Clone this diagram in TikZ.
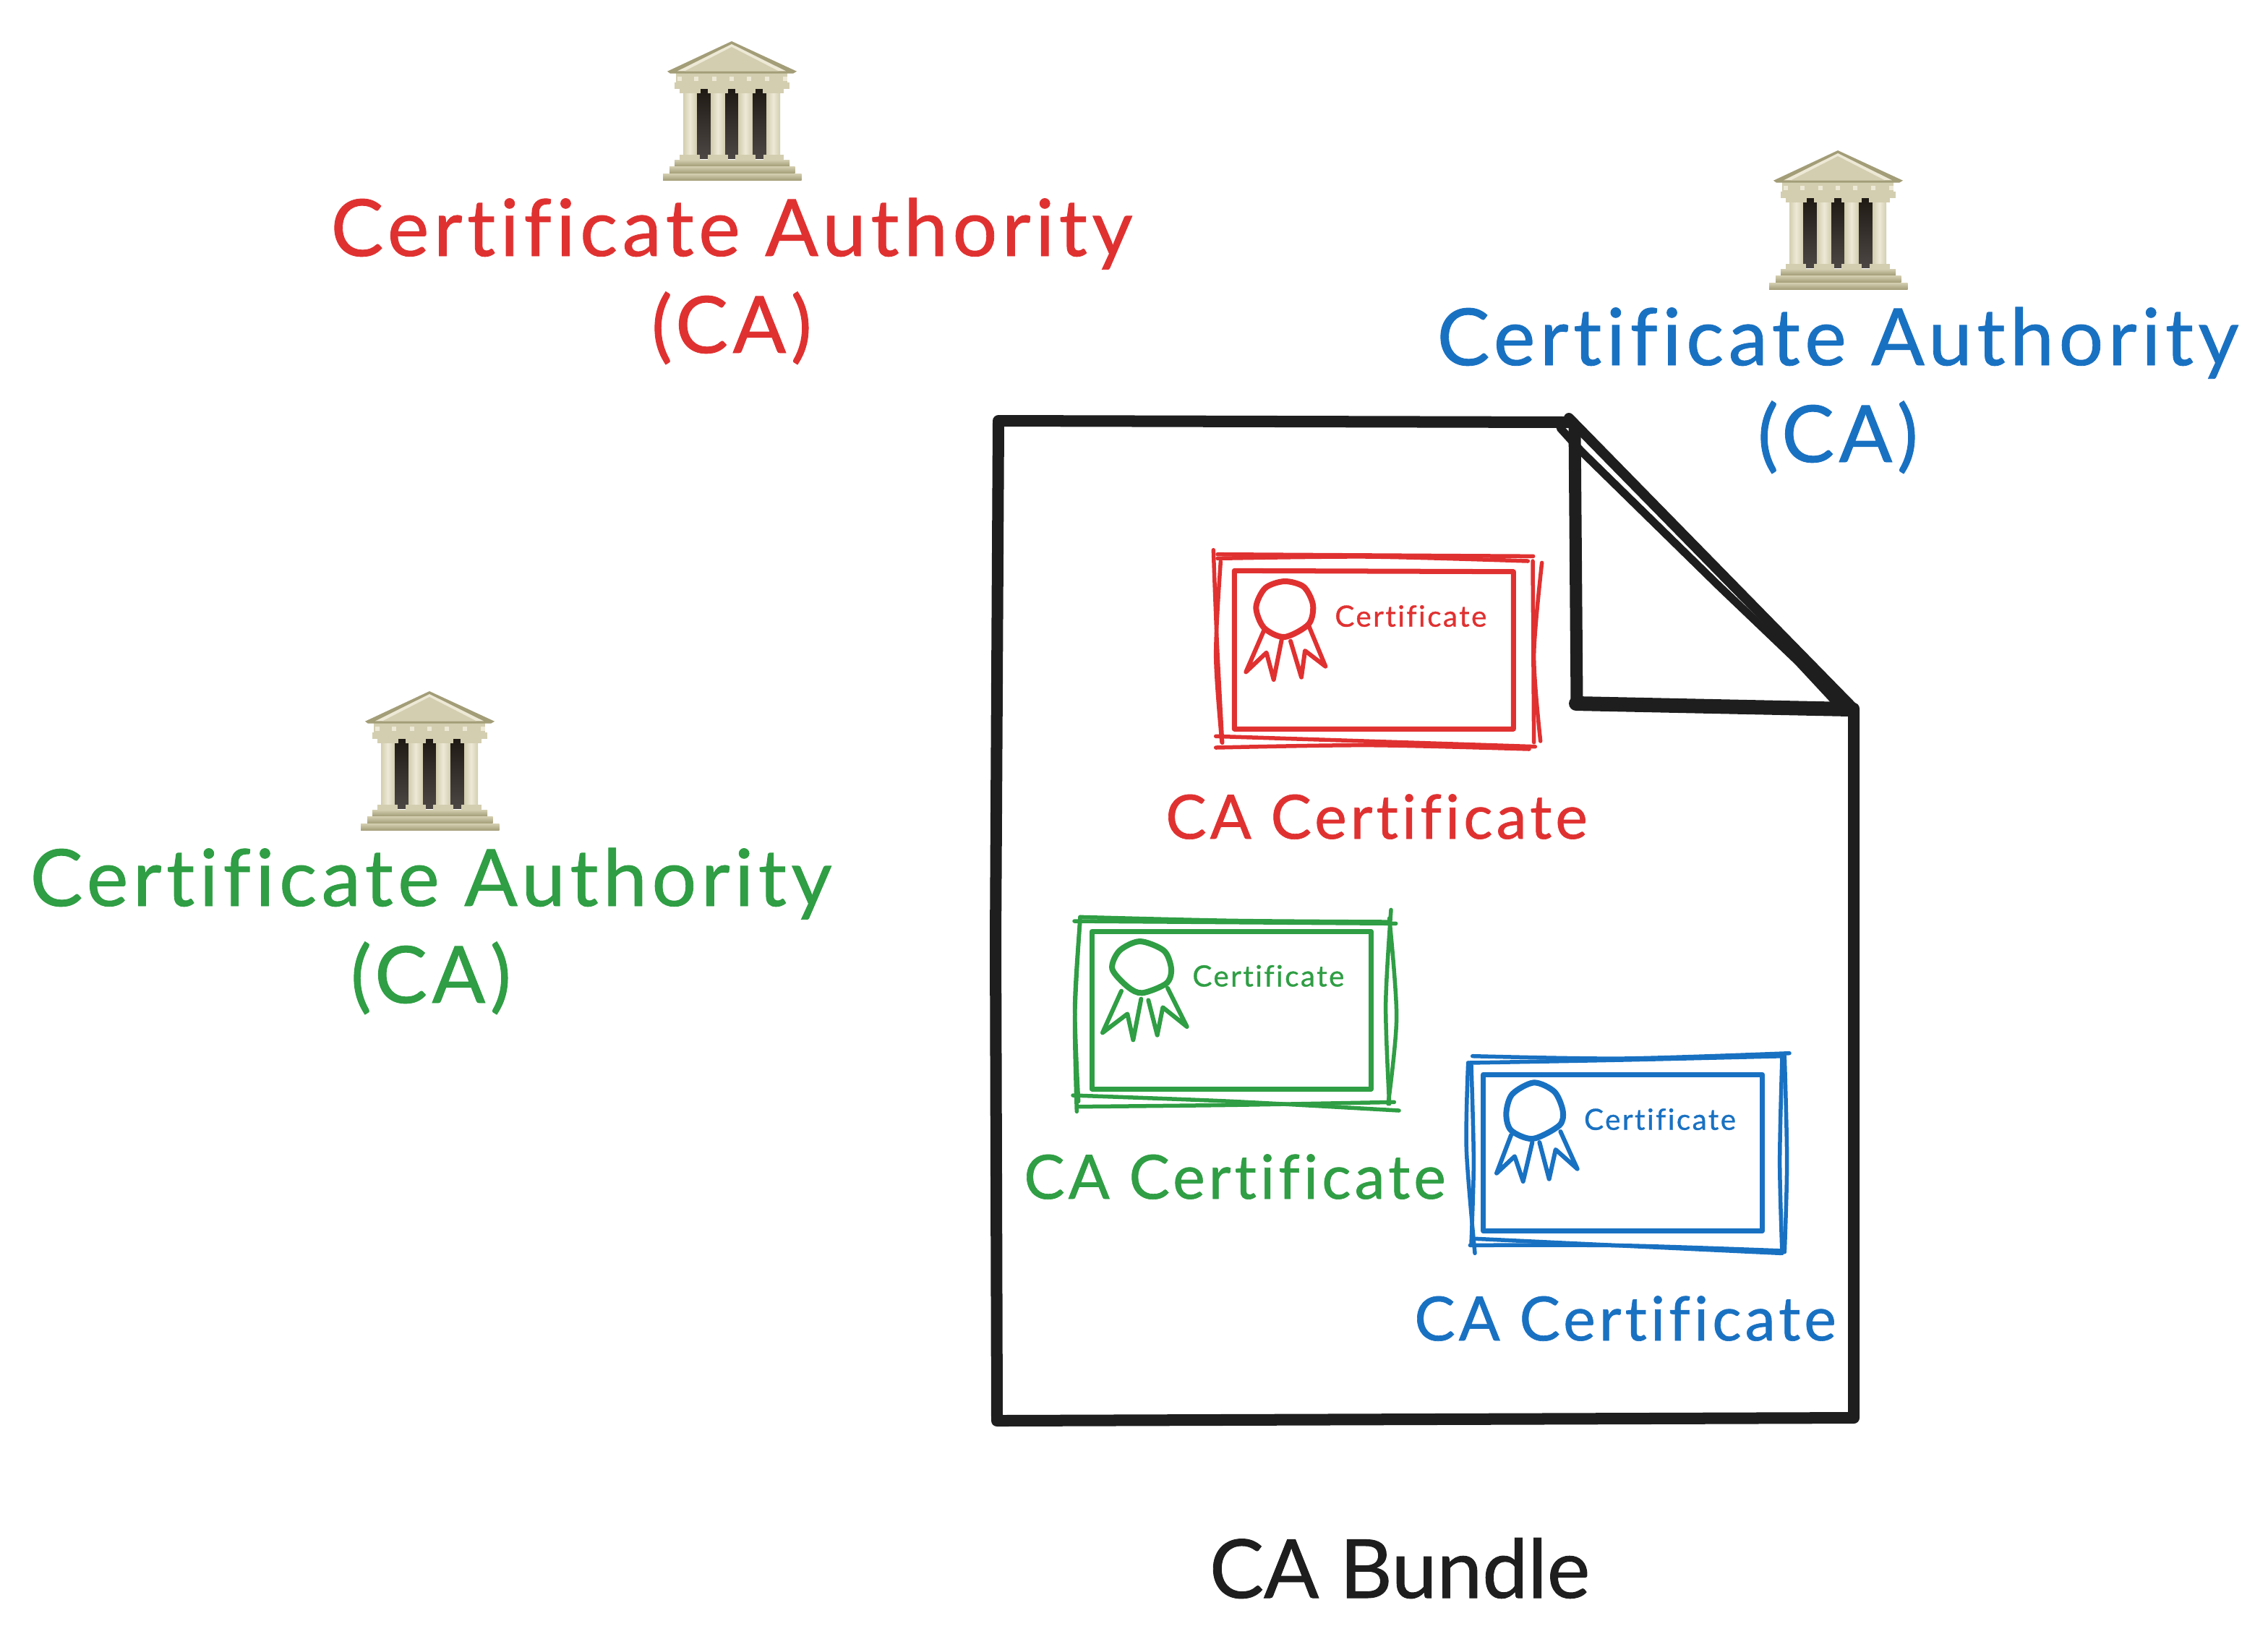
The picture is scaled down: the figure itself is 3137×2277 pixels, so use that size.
\documentclass[tikz,border=0pt]{standalone}
\usepackage{fontspec}
\setmainfont[LetterSpace=6,FakeBold=0.8,Ligatures=NoCommon]{Lato}
\definecolor{sketchred}{HTML}{E03131}
\definecolor{sketchgreen}{HTML}{2F9E44}
\definecolor{sketchblue}{HTML}{1971C2}
\definecolor{sketchblack}{HTML}{1E1E1E}
\definecolor{stonelight}{HTML}{EDE9D6}
\definecolor{stone}{HTML}{D3CEB0}
\definecolor{stonedark}{HTML}{A39D78}
\definecolor{gaptop}{HTML}{1F1A14}
\definecolor{gapbottom}{HTML}{4C4744}
\tikzset{
  sketch/.style={line width=0.055cm,line cap=round,line join=round},
  inner frame/.style={line width=0.07cm,line cap=round,line join=round},
  seal/.style={line width=0.08cm,line cap=round,line join=round},
  ribbon/.style={line width=0.06cm,line cap=round,line join=round},
  sheet/.style={sketchblack,line width=0.16cm,line cap=round,line join=round},
  calabel/.style={anchor=base,inner sep=0pt,font=\fontsize{31}{31}\selectfont},
  certname/.style={anchor=base,inner sep=0pt,font=\fontsize{24}{24}\selectfont},
  bundlename/.style={anchor=base,inner sep=0pt,text=sketchblack,font=\fontsize{32}{32}\selectfont\addfontfeature{LetterSpace=0}},
  certtext/.style={anchor=base,inner sep=0pt,font=\fontsize{11.5}{11.5}\selectfont},
  temple/.pic={
    \begin{scope}[scale=1/3,shift={(-395,-80)}]
      \foreach \gapx in {250,368,482}
        \shade[top color=gaptop,bottom color=gapbottom] (\gapx,278) rectangle ++(60,290);
      \foreach \colx in {222,338,452,568} {
        \shade[left color=stone,right color=stone,middle color=stonelight] (\colx-28,290) rectangle (\colx+28,555);
        \fill[stone] (\colx-43,278) rectangle (\colx+43,296);
        \fill[stone] (\colx-42,552) rectangle (\colx+42,572);
      }
      \fill[stone] (158,250) rectangle (635,278);
      \fill[stone] (165,212) rectangle (625,250);
      \foreach \metx in {178,248,322,396,468,542,616}
        \fill[stonelight] (\metx-9,226) rectangle (\metx+9,246);
      \fill[stonedark] (395,80) -- (665,205) -- (650,214) -- (140,214) -- (128,205) -- cycle;
      \fill[stonelight] (395,92) -- (620,204) -- (170,204) -- cycle;
      \fill[stone] (395,104) -- (590,204) -- (200,204) -- cycle;
      \shade[top color=stone,bottom color=stonedark] (158,572) rectangle (635,598);
      \shade[top color=stone,bottom color=stonedark] (137,600) rectangle (658,628);
      \shade[top color=stone,bottom color=stonedark] (110,630) rectangle (685,657);
    \end{scope}
  }
}
\begin{document}
\begin{tikzpicture}[x=0.01cm,y=-0.01cm]
    \useasboundingbox (0,0) rectangle (3137,2277);
    \pic at (1012,57) {temple};
    \node[calabel,text=sketchred] (redca) at (1012,354) {Certificate Authority};
    \node[calabel,text=sketchred] (redabbr) at (1012,488) {(CA)};
    \pic at (2542,208) {temple};
    \node[calabel,text=sketchblue] (blueca) at (2542,505) {Certificate Authority};
    \node[calabel,text=sketchblue] (blueabbr) at (2542,639) {(CA)};
    \pic at (594,956) {temple};
    \node[calabel,text=sketchgreen] (greenca) at (596,1253) {Certificate Authority};
    \node[calabel,text=sketchgreen] (greenabbr) at (596,1387) {(CA)};
    % bundle sheet
    \draw[sheet] (2170,584) -- (1381,582) -- (1377,1300) -- (1379,1965) -- (2564,1961) -- (2564,980);
    \draw[sheet,line width=0.14cm] (2170,578) -- (2562,978);
    \draw[sheet,line width=0.11cm] (2158,592) -- (2187,624) -- (2377,810) -- (2487,915) -- (2540,972);
    \draw[sheet,line width=0.17cm] (2178,590) -- (2181,972);
    \draw[sheet,line width=0.2cm] (2180,973) -- (2560,981);
    \node[bundlename] (bundle) at (1936,2210) {CA Bundle};
    % red certificate
    \begin{scope}[shift={(1660,740)},scale=1/3,color=sketchred]
        \draw[sketch] (72,80) -- (1382,88);
        \draw[sketch] plot[smooth] coordinates {(72,97) (700,90) (1360,108)};
        \draw[sketch] plot[smooth] coordinates {(55,62) (70,450) (92,862)};
        \draw[sketch] plot[smooth] coordinates {(85,110) (65,500) (90,860)};
        \draw[sketch] (65,835) -- (1390,878);
        \draw[sketch] plot[smooth] coordinates {(65,882) (700,872) (1365,888)};
        \draw[sketch] (1380,108) -- (1385,860);
        \draw[sketch] plot[smooth] coordinates {(1418,115) (1385,500) (1412,855)};
        \draw[inner frame] (142,148) -- (1300,152) -- (1300,805) -- (142,805) -- cycle;
        \draw[seal] plot[smooth cycle] coordinates {(350,192) (430,215) (468,290) (450,370) (350,423) (265,385) (232,300) (270,220)};
        \draw[ribbon] (265,395) -- (190,568) -- (275,488) -- (305,600) -- (338,435);
        \draw[ribbon] (375,440) -- (420,590) -- (435,480) -- (520,545) -- (452,380);
        \node[certtext,text=sketchred] (redcert) at (874,380) {Certificate};
    \end{scope}
    \node[certname,text=sketchred] (redname) at (1904,1160) {CA Certificate};
    % green certificate
    \begin{scope}[shift={(1470,1240)},scale=1/3,color=sketchgreen]
        \draw[sketch] plot[smooth] coordinates {(72,85) (700,100) (1345,105)};
        \draw[sketch] (48,102) -- (1382,112);
        \draw[sketch] plot[smooth] coordinates {(72,85) (50,500) (58,892)};
        \draw[sketch] plot[smooth] coordinates {(72,100) (50,450) (65,850)};
        \draw[sketch] plot[smooth] coordinates {(1362,55) (1340,450) (1355,860)};
        \draw[sketch] plot[smooth] coordinates {(1355,90) (1385,500) (1350,860)};
        \draw[sketch] plot[smooth] coordinates {(42,825) (700,850) (1395,888)};
        \draw[sketch] plot[smooth] coordinates {(60,872) (700,865) (1375,853)};
        \draw[inner frame] (120,145) -- (1280,145) -- (1280,798) -- (120,798) -- cycle;
        \draw[seal] plot[smooth cycle] coordinates {(320,186) (420,225) (450,300) (430,360) (330,400) (270,375) (205,300) (235,225)};
        \draw[ribbon] (243,392) -- (165,565) -- (268,487) -- (292,595) -- (325,425);
        \draw[ribbon] (355,430) -- (392,575) -- (415,460) -- (515,540) -- (435,380);
        \node[certtext,text=sketchgreen] (greencert) at (853,373) {Certificate};
    \end{scope}
    \node[certname,text=sketchgreen] (greenname) at (1708,1658) {CA Certificate};
    % blue certificate
    \begin{scope}[shift={(2010,1440)},scale=1/3,color=sketchblue]
        \draw[sketch] plot[smooth] coordinates {(80,62) (700,72) (1395,50)};
        \draw[sketch] plot[smooth] coordinates {(62,90) (700,78) (1375,62)};
        \draw[sketch] plot[smooth] coordinates {(62,90) (55,450) (90,880)};
        \draw[sketch] plot[smooth] coordinates {(75,100) (85,500) (75,840)};
        \draw[sketch] plot[smooth] coordinates {(1365,65) (1355,500) (1365,880)};
        \draw[sketch] plot[smooth] coordinates {(1375,65) (1385,500) (1375,875)};
        \draw[sketch] (95,820) -- (1360,880);
        \draw[sketch] plot[smooth] coordinates {(70,847) (700,848) (1370,870)};
        \draw[inner frame] (125,138) -- (1283,138) -- (1283,788) -- (125,788) -- cycle;
        \draw[seal] plot[smooth cycle] coordinates {(335,172) (420,210) (455,290) (440,350) (330,405) (240,370) (220,300) (245,220)};
        \draw[ribbon] (240,390) -- (180,548) -- (255,478) -- (290,582) -- (328,420);
        \draw[ribbon] (358,420) -- (398,572) -- (425,450) -- (515,530) -- (445,375);
        \node[certtext,text=sketchblue] (bluecert) at (858,368) {Certificate};
    \end{scope}
    \node[certname,text=sketchblue] (bluename) at (2248,1854) {CA Certificate};
\end{tikzpicture}
\end{document}
